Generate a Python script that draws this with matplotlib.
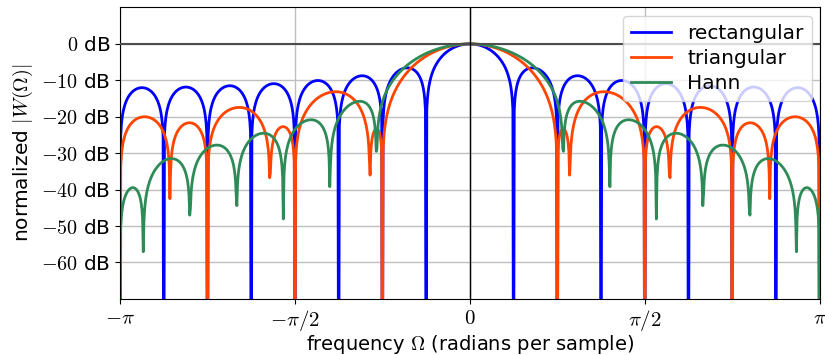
import numpy as np
import matplotlib
matplotlib.use("Agg")
import matplotlib.pyplot as plt

plt.rcParams['mathtext.fontset'] = 'cm'

# window samples (length 16)
rect_win = [1.0]*16
tri_win = [0/15, 2/15, 4/15, 6/15, 8/15, 10/15, 12/15, 14/15,
           14/15, 12/15, 10/15, 8/15, 6/15, 4/15, 2/15, 0/15]
hann_win = [0.0, 0.0432273, 0.1654347, 0.3454915, 0.5522642, 0.75, 0.9045085, 0.9890738,
            0.9890738, 0.9045085, 0.75, 0.5522642, 0.3454915, 0.1654347, 0.0432273, 0.0]
names = ["rectangular", "triangular", "Hann"]
colors = ["blue", "orangered", "seagreen"]

yticks = [0, -10, -20, -30, -40, -50, -60]
xticks = [-np.pi, -np.pi/2, 0, np.pi/2, np.pi]
xticklabels = [r"$-\pi$", r"$-\pi/2$", r"$0$", r"$\pi/2$", r"$\pi$"]

nfft = 1024

def spectrum_db(w):
    W = np.fft.fftshift(np.fft.fft(np.asarray(w), nfft))
    W = np.append(W, W[0])
    mag = np.abs(W)
    mag = np.maximum(mag/mag.max(), 1e-12)
    return 10*np.log10(mag)

omega = np.fft.fftshift(np.fft.fftfreq(nfft))*2*np.pi
omega = np.append(omega, np.pi)

fig = plt.figure(figsize=(8.25, 3.55), dpi=100)
ax = fig.add_axes([0.1455, 0.158, 0.848, 0.821])

for w, name, c in zip([rect_win, tri_win, hann_win], names, colors):
    ax.plot(omega, spectrum_db(w), color=c, lw=2, label=name)

ax.axhline(0, color='0.3', lw=1.5, zorder=3)
ax.axvline(0, color='k', lw=1, zorder=3)
ax.grid(True, color='0.75', lw=1)

ax.set_xlim(-np.pi, np.pi)
ax.set_ylim(-70, 10)
ax.set_xticks(xticks)
ax.set_xticklabels(xticklabels, fontsize=15)
ax.tick_params(axis='x', pad=3)
ax.set_yticks(yticks)
ax.set_yticklabels(["$%d$ dB" % v for v in yticks], fontsize=14.5)
ax.set_xlabel(r"frequency $\Omega$ (radians per sample)", fontsize=14, labelpad=0)
ax.set_ylabel(r"normalized $|W(\Omega)|$", fontsize=14.5, labelpad=4)
ax.legend(loc='upper right', fontsize=14.5, handlelength=2.0,
          borderaxespad=0.4, labelspacing=0.3)

fig.savefig("out.png", dpi=100)
